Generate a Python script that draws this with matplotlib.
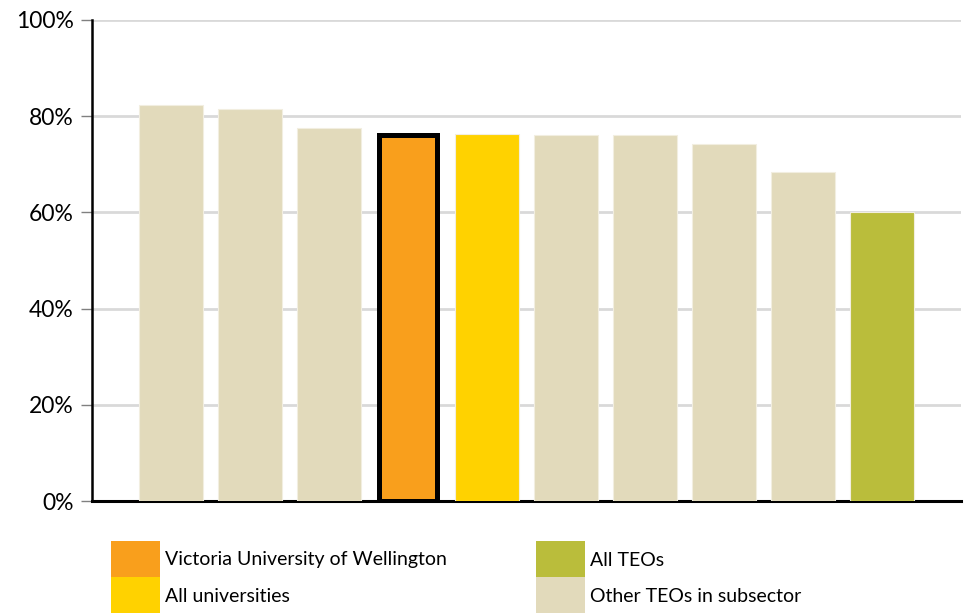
import matplotlib
matplotlib.use("Agg")
import matplotlib.pyplot as plt
from matplotlib.patches import Rectangle

plt.rcParams['font.family'] = ['Lato', 'DejaVu Sans']

# Data
categories = ["TEO 1", "TEO 2", "TEO 3", "Victoria University of Wellington",
              "All universities", "TEO 6", "TEO 7", "TEO 8", "TEO 9", "All TEOs"]
values = [82.4, 81.6, 77.5, 76.1, 76.4, 76.1, 76.0, 74.3, 68.5, 60.0]
groups = ["other", "other", "other", "vuw", "univ", "other", "other", "other", "other", "all"]
yticks = [0, 20, 40, 60, 80, 100]
ytick_labels = ["0%", "20%", "40%", "60%", "80%", "100%"]
legend_labels = ["Victoria University of Wellington", "All universities", "All TEOs", "Other TEOs in subsector"]
legend_groups = ["vuw", "univ", "all", "other"]

colors = {"vuw": "#F99F1C", "univ": "#FFD200", "all": "#BABD3B", "other": "#E2DABB"}

W, H = 971, 613
fig = plt.figure(figsize=(W / 100, H / 100), dpi=100)
ax = fig.add_axes([92 / W, 1 - 501 / H, (961 - 92) / W, (501 - 20) / H])

bar_w = 0.81
for i, (v, g) in enumerate(zip(values, groups)):
    if g == "vuw":
        ax.bar(i, v, width=bar_w - 0.065, color=colors[g], edgecolor="black",
               linewidth=3.6, zorder=3)
    else:
        ax.bar(i, v, width=bar_w, color=colors[g], edgecolor="#F2EEE0",
               linewidth=0.8, zorder=3)

ax.set_xlim(-1.0, 10.0)
ax.set_ylim(0, 100)
ax.set_yticks(yticks)
ax.set_yticklabels(ytick_labels, fontsize=16.5)
ax.set_xticks([])
ax.yaxis.grid(True, color="#D9D9D9", linewidth=2, zorder=0)
ax.set_axisbelow(True)
ax.tick_params(axis="y", length=8, width=1, color="#808080", pad=5, labelcolor="black")
for s in ["top", "right"]:
    ax.spines[s].set_visible(False)
ax.spines["left"].set_linewidth(1.8)
ax.spines["bottom"].set_linewidth(2.2)
ax.spines["left"].set_color("black")
ax.spines["bottom"].set_color("black")

# Legend (2x2 blocks of stacked swatches)
legend_pos = [(111, 541), (111, 577), (536, 541), (536, 577)]
for (lx, ly), lab, g in zip(legend_pos, legend_labels, legend_groups):
    fig.patches.append(Rectangle((lx / W, 1 - (ly + 36) / H), 49 / W, 36 / H,
                                 transform=fig.transFigure, facecolor=colors[g],
                                 edgecolor="none"))
    fig.text((lx + 54) / W, 1 - (ly + 19) / H, lab, fontsize=14,
             va="center", ha="left", color="black")

fig.savefig("out.png", dpi=100)
